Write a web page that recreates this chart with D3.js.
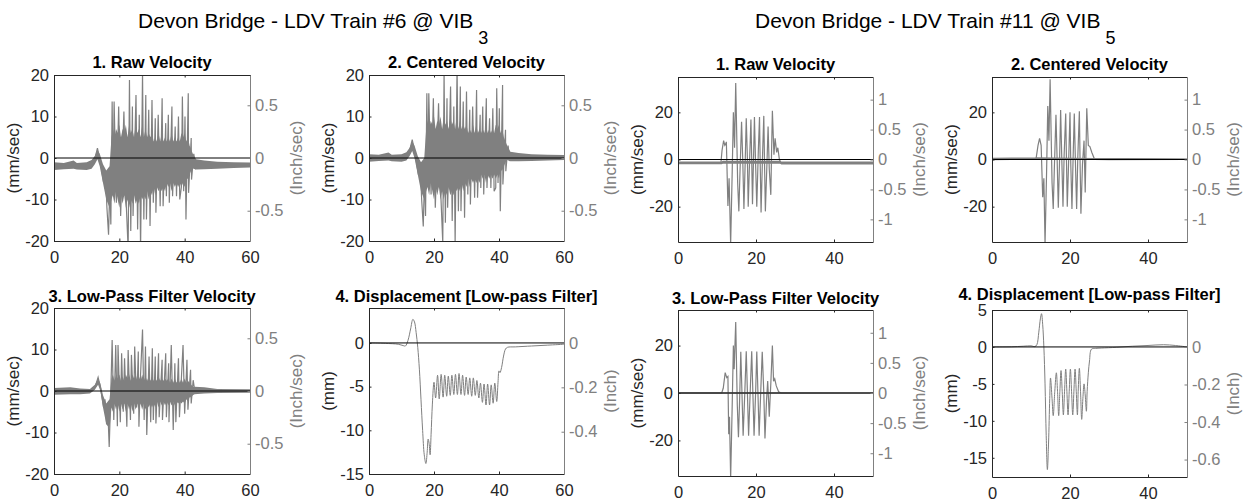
<!DOCTYPE html>
<html>
<head>
<meta charset="utf-8">
<script src="https://cdn.jsdelivr.net/npm/d3@7"></script>
<style>
  body { margin: 0; background: #fff; }
  svg { display: block; font-family: "Liberation Sans", Arial, Helvetica, sans-serif; }
</style>
</head>
<body>
<div id="chart"></div>
<script>
// ---- Data: [time (s), value] or [time, upper, lower] ----

// Train #6 @ VIB3 : raw velocity (mm/sec)
const raw6Band = [
  [0, -1.0, -2.9], [3, -1.2, -2.7], [6, -0.6, -2.6], [7, -1.2, -2.8], [10, -1.0, -2.9],
  [11.5, -0.5, -2.6], [12.5, 0.5, -1.5], [13.3, 2.0, -0.3], [14, 1.0, -2.0], [15, -1.5, -6],
  [16, -3, -10], [17, -2, -12], [17.6, 5, -10], [18, 7, -9], [18.5, 5, -11], [19, 7, -8],
  [19.5, 6, -10], [20, 8, -12], [20.5, 5, -9], [21, 7, -11], [21.5, 6, -9], [22, 8, -12],
  [22.5, 5, -10], [23, 8, -12], [23.5, 6, -10], [24, 7, -11], [24.5, 5, -9], [25, 8, -11],
  [25.5, 6, -10], [26, 7, -11], [26.5, 5, -9], [27, 8, -10], [27.5, 5, -9], [28, 7, -10],
  [28.5, 5, -8], [29, 6, -10], [29.5, 5, -8], [30, 6, -9], [30.5, 4, -7], [31, 5, -9],
  [31.5, 4, -7], [32, 6, -8], [32.5, 4, -7], [33, 6, -8], [33.5, 4, -7], [34, 5, -8],
  [34.5, 4, -6], [35, 5, -7], [35.5, 4, -6], [36, 6, -8], [36.5, 4, -6], [37, 5, -7],
  [37.5, 4, -6], [38, 5, -7], [38.5, 4, -6], [39, 6, -7], [39.5, 5, -6], [40, 6, -7],
  [40.5, 4, -5], [41, 5, -5], [41.5, 3, -4], [42, 2, -3], [42.5, 1, -2.5], [43.5, -0.3, -2.8],
  [46, -0.6, -2.7], [50, -0.9, -2.6], [55, -1.0, -2.4], [60, -1.1, -2.3]
];
const raw6 = [
  [0, -1.9], [11.5, -1.8], [12.4, -0.5], [13.3, 2.4], [14.2, -1], [15.2, -6], [15.8, -4],
  [16.2, -12], [16.7, -18.5], [17.1, -6], [17.4, -16], [17.8, 13.6], [18.1, -8], [18.4, 13.6],
  [19.1, -10.8], [19.8, 12.4], [20.4, -14], [21.4, 11.2], [22.0, -9], [22.7, -22], [23.1, 18.8],
  [23.5, -17.6], [24.0, 12.4], [24.2, -14], [25.1, 15.2], [25.6, -17.2], [26.1, 10.4], [26.5, -22],
  [27.1, 20.5], [27.5, -14.8], [28.1, 15.2], [28.3, -14.8], [29.0, 11.6], [29.4, -16.4], [30.0, 14],
  [30.4, -10.8], [31.0, 9.6], [31.2, -13.2], [31.9, 10.4], [32.5, -11.6], [33.1, 14.4], [33.4, -11.6],
  [34.2, 8.4], [34.4, -9.2], [35.0, 10.4], [35.3, -10.8], [36.1, 12.4], [36.3, -9.2], [37.1, 7.6],
  [37.5, -9.2], [38.1, 10], [38.5, -10], [39.0, -7], [39.3, 14.8], [39.7, -8], [40.1, 10],
  [40.4, -14.8], [41.1, 15.6], [41.2, -8.4], [42.0, 4.8], [42.1, -5.2], [42.8, 1], [43.3, -2.5],
  [44, -1.8], [60, -1.7]
];

// Train #6 @ VIB3 : centered velocity (mm/sec)
const cen6Band = [
  [0, 0.9, -0.9], [3, 0.8, -0.7], [6, 1.3, -0.6], [7, 0.8, -0.8], [10, 0.9, -0.9],
  [11.5, 1.4, -0.6], [12.5, 2.5, 0.5], [13.3, 4.0, 1.7], [14, 3.0, 0], [15, 0.5, -4],
  [16, -1, -8], [17, 0, -10], [17.6, 7, -8], [18, 9, -7], [18.5, 7, -9], [19, 9, -6],
  [19.5, 8, -8], [20, 10, -10], [20.5, 7, -7], [21, 9, -9], [21.5, 8, -7], [22, 10, -10],
  [22.5, 7, -8], [23, 10, -10], [23.5, 8, -8], [24, 9, -9], [24.5, 7, -7], [25, 10, -9],
  [25.5, 8, -8], [26, 9, -9], [26.5, 7, -7], [27, 10, -8], [27.5, 7, -7], [28, 9, -8],
  [28.5, 7, -6], [29, 8, -8], [29.5, 7, -6], [30, 8, -7], [30.5, 6, -5], [31, 7, -7],
  [31.5, 6, -5], [32, 8, -6], [32.5, 6, -5], [33, 8, -6], [33.5, 6, -5], [34, 7, -6],
  [34.5, 6, -4], [35, 7, -5], [35.5, 6, -4], [36, 8, -6], [36.5, 6, -4], [37, 7, -5],
  [37.5, 6, -4], [38, 7, -5], [38.5, 6, -4], [39, 8, -5], [39.5, 7, -4], [40, 8, -5],
  [40.5, 6, -3], [41, 7, -3], [41.5, 5, -2], [42, 4, -1], [42.5, 3, -0.5], [43.5, 1.5, -0.8],
  [46, 1.2, -0.8], [50, 0.9, -0.7], [55, 0.8, -0.6], [60, 0.7, -0.5]
];
const cen6 = [
  [0, 0.1], [11.5, 0.2], [12.4, 1.5], [13.3, 4.4], [14.2, 1], [15.2, -4], [15.8, -2],
  [16.2, -10], [16.7, -16.5], [17.1, -4], [17.4, -14], [17.8, 15.6], [18.1, -6], [18.4, 15.6],
  [19.1, -8.8], [19.8, 14.4], [20.4, -12], [21.4, 13.2], [22.0, -7], [22.7, -20.5], [23.1, 20.8],
  [23.5, -15.6], [24.0, 14.4], [24.2, -12], [25.1, 17.2], [25.6, -15.2], [26.1, 12.4], [26.5, -20.5],
  [27.1, 22.5], [27.5, -12.8], [28.1, 17.2], [28.3, -12.8], [29.0, 13.6], [29.4, -14.4], [30.0, 16],
  [30.4, -8.8], [31.0, 11.6], [31.2, -11.2], [31.9, 12.4], [32.5, -9.6], [33.1, 16.4], [33.4, -9.6],
  [34.2, 10.4], [34.4, -7.2], [35.0, 12.4], [35.3, -8.8], [36.1, 14.4], [36.3, -7.2], [37.1, 9.6],
  [37.5, -7.2], [38.1, 12], [38.5, -8], [39.0, -7.2], [39.3, 16.8], [39.7, -6], [40.1, 12],
  [40.4, -12.8], [41.1, 17.6], [41.2, -6.4], [42.0, 6.8], [42.1, -3.2], [42.8, 3], [43.3, -0.5],
  [44, 0.2], [60, 0.1]
];

// Train #6 @ VIB3 : low-pass velocity (mm/sec)
const lp6Band = [
  [0, 0.7, -0.9], [5, 0.9, -0.8], [8, 0.6, -0.8], [11, 0.5, -0.6], [12.5, 1.5, 0.3],
  [13.5, 3, 1.5], [14.2, 1.8, 0], [15, -1, -4], [16, -3, -8], [17, -2, -9], [17.6, 3, -4],
  [18, 4, -5], [18.5, 2.5, -3], [19, 4, -4.5], [19.5, 3, -3], [20, 4, -5], [20.5, 2.5, -3],
  [21, 3.5, -4.5], [21.5, 2.5, -3], [22, 4, -5], [22.5, 3, -3], [23, 4, -4.5], [23.5, 2.5, -3],
  [24, 4, -5], [24.5, 3, -3], [25, 4, -4.5], [25.5, 2.5, -3], [26, 3.5, -4.5], [26.5, 2.5, -3],
  [27, 4, -4.5], [27.5, 2.5, -3], [28, 3.5, -4.5], [28.5, 2.5, -3], [29, 3.5, -4], [29.5, 2.5, -3],
  [30, 3.5, -4], [30.5, 2.5, -3], [31, 3, -4], [31.5, 2.5, -2.5], [32, 3.5, -4], [32.5, 2.5, -2.5],
  [33, 3, -3.5], [33.5, 2.5, -2.5], [34, 3, -3.5], [34.5, 2.5, -2.5], [35, 3, -3.5], [35.5, 2, -2.5],
  [36, 3, -3.5], [36.5, 2, -2.5], [37, 3, -3.5], [37.5, 2, -2.5], [38, 3, -3], [38.5, 2, -2.5],
  [39, 3, -3], [39.5, 2, -2.5], [40, 3, -3], [40.5, 2, -2], [41, 2.5, -2.5], [41.5, 2, -1.5],
  [42, 1.5, -1.5], [42.5, 1, -1], [43, 1.0, -0.8], [46, 0.9, -0.6], [50, 0.5, -0.5], [60, 0.4, -0.4]
];
const lp6 = [
  [0, 0], [11.5, 0], [12.6, 1], [13.5, 3.3], [14.3, 0.5], [15.2, -4], [15.6, -2], [16.1, -8],
  [16.5, -5], [16.9, -13.5], [17.3, -3], [17.8, 12.3], [18.3, -7], [18.9, 11.1], [19.4, -8.5],
  [19.6, 11.1], [20.3, -7.5], [20.7, 9.1], [21.2, -5], [21.6, 7.9], [22.3, -8.6], [22.7, 9.9],
  [23.4, -7], [23.7, 8.7], [24.4, -5.5], [24.7, 10.7], [25.3, -4], [25.8, 9.5], [26.0, -8.6],
  [26.5, 4], [27.1, 14.8], [27.6, -7], [28.0, 10.7], [28.4, -10.6], [29.1, 8.3], [29.6, -7.5],
  [30.1, 10.3], [30.4, -7], [31.0, 8.3], [31.2, -7.8], [32.0, 9.1], [32.2, -6.3], [33.1, 7.5],
  [33.2, -7], [34.2, 9.1], [34.4, -6.3], [35.1, 6.7], [35.2, -7.5], [35.9, 11.1], [36.5, -9.4],
  [37.0, 6.7], [37.3, -7.5], [38.1, 7.9], [38.4, -6.3], [39.5, 11.1], [40.0, -5.5], [40.7, 7.5],
  [41.0, -4.5], [41.8, 5.1], [42.0, -3], [42.6, 2.6], [43.2, -0.5], [44, 0], [60, 0]
];

// Train #6 @ VIB3 : displacement (mm)
const disp6 = [
  [0, 0], [5, -0.05], [9, -0.15], [10.5, -0.3], [11.2, -0.35], [12, 0.3], [12.8, 1.6],
  [13.5, 2.7], [14, 2.4], [14.5, 1.2], [15, -0.5], [15.5, -3], [16, -6.5], [16.5, -10],
  [17, -12.8], [17.5, -13.8], [17.9, -12.5], [18.2, -11.0], [18.5, -11.5], [18.8, -12.8],
  [19.1, -10.5], [19.5, -7], [20.0, -4.5], [20.5, -6.3], [21.1, -3.7], [21.6, -6.4], [22.2, -3.6],
  [22.8, -6.2], [23.3, -3.7], [23.9, -6.1], [24.4, -3.8], [25.0, -6.0], [25.5, -3.7], [26.1, -5.9],
  [26.6, -3.6], [27.2, -5.9], [27.7, -3.5], [28.3, -5.9], [28.8, -3.7], [29.4, -6.0], [29.9, -3.9],
  [30.5, -5.9], [31.0, -4.0], [31.6, -6.1], [32.1, -4.0], [32.7, -6.0], [33.2, -4.3], [33.8, -6.3],
  [34.3, -4.6], [34.9, -6.8], [35.4, -4.7], [36.0, -7.1], [36.5, -4.7], [37.1, -7.1], [37.6, -4.8],
  [38.2, -6.9], [38.7, -4.6], [39.3, -6.7], [39.7, -4.5], [40.0, -3.2], [40.3, -3.4], [40.8, -2.8],
  [41.4, -1.5], [42, -0.7], [42.6, -0.5], [45, -0.45], [50, -0.35], [55, -0.25], [60, -0.15]
];

// Train #11 @ VIB5 : raw velocity (mm/sec)
const raw11Band = [
  [0, -0.9, -2.0], [11.2, -0.9, -2.0], [11.5, -0.5, -1.8], [26.2, -0.5, -1.8],
  [26.5, -0.9, -2.1], [50, -0.9, -2.1]
];
const raw11 = [
  [0, -1.5], [11.0, -1.5], [11.3, 4], [11.7, 8], [12.0, 6], [12.2, 6.5], [12.4, 7.5], [12.8, -19.7],
  [13.1, -8], [13.5, -36], [13.9, -5], [14.2, 20], [14.5, 5], [14.8, 32.5], [15.3, -10], [15.6, -22],
  [15.9, -5], [16.3, 16], [16.6, 0], [16.9, -21], [17.2, -3], [17.5, 17.5], [17.8, 0], [18.0, -20],
  [18.4, 2], [18.7, 17], [18.9, 0], [19.1, -19], [19.4, 3], [19.6, 18], [19.9, -2], [20.2, -20],
  [20.6, 4], [20.9, 18], [21.1, -4], [21.3, -22.5], [21.7, 3], [22.0, 18.5], [22.2, -3], [22.4, -22],
  [22.8, -2], [23.1, 14], [23.4, -4], [23.8, -15], [24.0, 4], [24.2, 20.7], [24.6, 2], [24.9, 9],
  [25.3, 3], [25.6, 5], [26.0, 0], [26.4, -1.5], [50, -1.5]
];

// Train #11 @ VIB5 : centered velocity (mm/sec)
const cen11Band = [
  [0, 0.7, -0.3], [5, 0.8, -0.2], [11, 0.9, -0.2], [11.5, 1, 0], [26.2, 0.6, -0.2],
  [30, 0.5, -0.3], [50, 0.3, -0.2]
];
const cen11 = [
  [0, 0.2], [11.3, 0.4], [11.8, 6], [12.2, 9], [12.6, 6], [13.0, -16], [13.3, -8], [13.6, -36],
  [14.0, -5], [14.3, 22.7], [14.6, 8], [14.9, 34], [15.4, -10], [15.7, -21], [16.0, -3], [16.4, 19],
  [16.7, 0], [17.0, -20.5], [17.3, -2], [17.6, 21], [17.9, 0], [18.2, -20], [18.5, 2], [18.9, 19.5],
  [19.1, -1], [19.3, -20], [19.7, 2], [20.0, 20], [20.2, -2], [20.5, -21], [20.8, 1], [21.1, 19.5],
  [21.4, -2], [21.7, -21], [22.0, 1], [22.4, 20.5], [22.6, -3], [22.8, -23], [23.2, -2], [23.6, 8],
  [23.9, -14], [24.3, 21.7], [24.7, 6], [25.1, 5.5], [25.6, 3], [26.2, 0.5], [50, 0.2]
];

// Train #11 @ VIB5 : low-pass velocity (mm/sec)
const lp11Band = [
  [0, 0.3, -0.3], [11.2, 0.3, -0.3], [26, 0.3, -0.3], [50, 0.2, -0.2]
];
const lp11 = [
  [0, 0], [11.2, 0], [11.6, 2], [12.1, 8.6], [12.5, 6.5], [12.8, 7], [13.0, -17.4], [13.2, -10],
  [13.5, -36], [13.9, -5], [14.2, 20], [14.4, 10], [14.8, 29.9], [15.2, -5], [15.5, -18.7],
  [15.8, -3], [16.1, 17.4], [16.4, 0], [16.7, -18], [17.1, -1], [17.5, 17.6], [17.8, 0], [18.1, -18],
  [18.5, 0], [18.9, 17.6], [19.2, 0], [19.5, -18], [19.9, 0], [20.2, 17.5], [20.5, 0], [20.8, -18],
  [21.2, 0], [21.6, 17.4], [22.0, 0], [22.3, -19.2], [22.7, -3], [23.0, 5], [23.4, -10], [23.8, 4],
  [24.2, 20], [24.5, 5], [24.8, 6], [25.2, 3], [25.8, 0.5], [26.5, 0], [50, 0]
];

// Train #11 @ VIB5 : displacement (mm)
const disp11 = [
  [0, 0], [5, 0.02], [8, 0.1], [10, 0.15], [11, 0.05], [11.5, 0.3], [12, 2], [12.4, 3.8],
  [12.7, 4.5], [13, 3], [13.3, 0], [13.6, -5], [13.9, -12], [14.2, -16.6], [14.5, -13], [14.8, -7],
  [15.0, -4.2], [15.4, -7], [15.7, -9.3], [16.1, -6], [16.5, -3.5], [16.8, -6], [17.1, -9.3],
  [17.4, -6], [17.7, -3.2], [18.0, -6], [18.3, -9.2], [18.6, -6], [18.9, -3.0], [19.2, -6],
  [19.5, -9.2], [19.8, -6], [20.1, -3.0], [20.4, -6], [20.7, -9.2], [21.0, -6], [21.3, -3.0],
  [21.6, -6], [21.9, -9.2], [22.1, -6], [22.4, -2.9], [22.7, -6], [23.0, -9.8], [23.3, -7],
  [23.6, -5], [23.9, -6.5], [24.2, -8.7], [24.4, -6], [24.7, -3.5], [25.0, -1.9], [25.5, -0.3],
  [26.5, -0.2], [28, -0.15], [32, -0.05], [36, 0.1], [40, 0.2], [44, 0.3], [47, 0.2], [50, 0]
];

// Tick values
const xTicks60 = [0, 20, 40, 60];
const xTicks50 = [0, 20, 40];
const velTicks6 = [-20, -10, 0, 10, 20];
const velTicks11 = [-20, 0, 20];
const dispTicks6 = [-15, -10, -5, 0];
const dispTicks11 = [-15, -10, -5, 0, 5];
const inchVelTicks6 = [-0.5, 0, 0.5];
const inchVelTicks11 = [-1, -0.5, 0, 0.5, 1];
const inchDispTicks6 = [-0.4, -0.2, 0];
const inchDispTicks11 = [-0.6, -0.4, -0.2, 0];

const mmPerInch = 25.4;

/*******************************/
/*    Declare the constants    */
/*******************************/
const width = 1249;
const height = 502;
const axisColour = "#262626";
const rightColour = "#808080";
const signalColour = "#808080";
const fontFamily = '"Liberation Sans", Arial, Helvetica, sans-serif';

const panels = [
  {title: "1. Raw Velocity", x: 54, y: 75, w: 196, h: 166, xMax: 60, xTicks: xTicks60, yDomain: [-20, 20],
   yTicks: velTicks6, rTicks: inchVelTicks6, yLabel: "(mm/sec)", rLabel: "(Inch/sec)", band: raw6Band, series: raw6},
  {title: "2. Centered Velocity", x: 369, y: 75, w: 195, h: 166, xMax: 60, xTicks: xTicks60, yDomain: [-20, 20],
   yTicks: velTicks6, rTicks: inchVelTicks6, yLabel: "(mm/sec)", rLabel: "(Inch/sec)", band: cen6Band, series: cen6},
  {title: "3. Low-Pass Filter Velocity", x: 54, y: 308, w: 196, h: 166, xMax: 60, xTicks: xTicks60, yDomain: [-20, 20],
   yTicks: velTicks6, rTicks: inchVelTicks6, yLabel: "(mm/sec)", rLabel: "(Inch/sec)", band: lp6Band, series: lp6},
  {title: "4. Displacement [Low-pass Filter]", x: 369, y: 308, w: 195, h: 166, xMax: 60, xTicks: xTicks60, yDomain: [-15, 4],
   yTicks: dispTicks6, rTicks: inchDispTicks6, yLabel: "(mm)", rLabel: "(Inch)", series: disp6, smooth: true},
  {title: "1. Raw Velocity", x: 678, y: 77, w: 195, h: 165, xMax: 50, xTicks: xTicks50, yDomain: [-35, 35],
   yTicks: velTicks11, rTicks: inchVelTicks11, yLabel: "(mm/sec)", rLabel: "(Inch/sec)", band: raw11Band, series: raw11},
  {title: "2. Centered Velocity", x: 992, y: 77, w: 195, h: 165, xMax: 50, xTicks: xTicks50, yDomain: [-35, 35],
   yTicks: velTicks11, rTicks: inchVelTicks11, yLabel: "(mm/sec)", rLabel: "(Inch/sec)", band: cen11Band, series: cen11},
  {title: "3. Low-Pass Filter Velocity", x: 678, y: 310, w: 195, h: 166, xMax: 50, xTicks: xTicks50, yDomain: [-35, 35],
   yTicks: velTicks11, rTicks: inchVelTicks11, yLabel: "(mm/sec)", rLabel: "(Inch/sec)", band: lp11Band, series: lp11},
  {title: "4. Displacement [Low-pass Filter]", x: 992, y: 310, w: 195, h: 167, xMax: 50, xTicks: xTicks50, yDomain: [-17.6, 5],
   yTicks: dispTicks11, rTicks: inchDispTicks11, yLabel: "(mm)", rLabel: "(Inch)", series: disp11, smooth: true,
   titleOffset: -10}
];

/*******************************/
/*    Append the containers    */
/*******************************/
const svg = d3.select("#chart")
  .append("svg")
    .attr("width", width)
    .attr("height", height)
    .attr("viewBox", `0 0 ${width} ${height}`);

svg.append("rect")
  .attr("width", width)
  .attr("height", height)
  .attr("fill", "#fff");

// Figure titles with subscript sensor number
const addMainTitle = (x, label, sub) => {
  const t = svg.append("text")
    .attr("x", x)
    .attr("y", 28)
    .attr("font-size", 21)
    .attr("fill", "#000")
    .text(label);
  t.append("tspan")
    .attr("dx", 5)
    .attr("dy", 16)
    .attr("font-size", 18)
    .text(sub);
};
addMainTitle(138, "Devon Bridge - LDV Train #6 @ VIB", "3");
addMainTitle(755, "Devon Bridge - LDV Train #11 @ VIB", "5");

const styleAxis = (sel, colour) => {
  sel.attr("font-size", 16.5).attr("font-family", fontFamily);
  sel.select(".domain").attr("stroke", colour);
  sel.selectAll(".tick line").attr("stroke", colour);
  sel.selectAll(".tick text").attr("fill", colour);
};

const drawPanel = (p, i) => {
  const g = svg.append("g")
    .attr("transform", `translate(${p.x}, ${p.y})`);

  // Scales
  const xScale = d3.scaleLinear().domain([0, p.xMax]).range([0, p.w]);
  const yScale = d3.scaleLinear().domain(p.yDomain).range([p.h, 0]);
  const inchScale = d3.scaleLinear().domain(p.yDomain.map(d => d / mmPerInch)).range([p.h, 0]);

  g.append("clipPath")
    .attr("id", `clip-${i}`)
    .append("rect")
      .attr("width", p.w)
      .attr("height", p.h);

  const plot = g.append("g").attr("clip-path", `url(#clip-${i})`);

  // Dense vibration core drawn as a band
  if (p.band) {
    const areaGenerator = d3.area()
      .x(d => xScale(d[0]))
      .y0(d => yScale(d[2]))
      .y1(d => yScale(d[1]));
    plot.append("path")
      .attr("d", areaGenerator(p.band))
      .attr("fill", signalColour);
  }

  const lineGenerator = d3.line()
    .x(d => xScale(d[0]))
    .y(d => yScale(d[1]));
  if (p.smooth) lineGenerator.curve(d3.curveCatmullRom);

  plot.append("path")
    .attr("d", lineGenerator(p.series))
    .attr("fill", "none")
    .attr("stroke", signalColour)
    .attr("stroke-width", p.smooth ? 1 : 1.2);

  // Zero reference line
  plot.append("line")
    .attr("x1", 0)
    .attr("x2", p.w)
    .attr("y1", yScale(0))
    .attr("y2", yScale(0))
    .attr("stroke", "#000")
    .attr("stroke-width", 1);

  // Axes
  const fmt = d => String(d);
  g.append("g")
    .attr("transform", `translate(0, ${p.h})`)
    .call(d3.axisBottom(xScale).tickValues(p.xTicks).tickFormat(fmt)
      .tickSizeInner(-2.5).tickSizeOuter(0).tickPadding(10))
    .call(s => styleAxis(s, axisColour));

  g.append("g")
    .call(d3.axisTop(xScale).tickValues(p.xTicks).tickFormat("")
      .tickSizeInner(-2.5).tickSizeOuter(0))
    .call(s => styleAxis(s, axisColour));

  g.append("g")
    .call(d3.axisLeft(yScale).tickValues(p.yTicks).tickFormat(fmt)
      .tickSizeInner(-2.5).tickSizeOuter(0).tickPadding(5))
    .call(s => styleAxis(s, axisColour));

  g.append("g")
    .attr("transform", `translate(${p.w}, 0)`)
    .call(d3.axisRight(inchScale).tickValues(p.rTicks).tickFormat(fmt)
      .tickSizeInner(-2.5).tickSizeOuter(0).tickPadding(5))
    .call(s => styleAxis(s, rightColour));

  // Titles and labels
  g.append("text")
    .attr("x", p.w / 2)
    .attr("y", p.titleOffset !== undefined ? p.titleOffset : (p.y < 200 ? -7 : -6))
    .attr("text-anchor", "middle")
    .attr("font-size", 16.5)
    .attr("font-weight", "bold")
    .attr("fill", "#000")
    .text(p.title);

  g.append("text")
    .attr("transform", `translate(-35, ${p.h / 2}) rotate(-90)`)
    .attr("text-anchor", "middle")
    .attr("font-size", 17)
    .attr("fill", axisColour)
    .text(p.yLabel);

  g.append("text")
    .attr("transform", `translate(${p.w + 52}, ${p.h / 2}) rotate(-90)`)
    .attr("text-anchor", "middle")
    .attr("font-size", 17)
    .attr("fill", rightColour)
    .text(p.rLabel);
};

panels.forEach(drawPanel);
</script>
</body>
</html>
